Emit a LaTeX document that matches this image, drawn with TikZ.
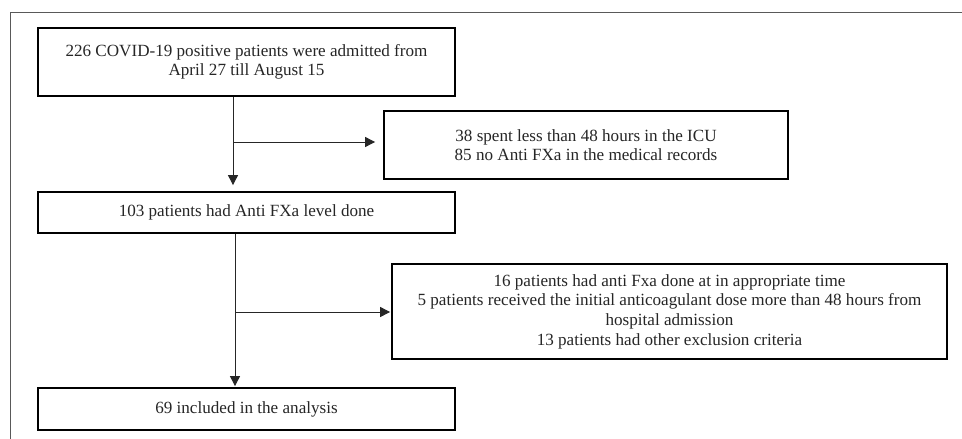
\documentclass[tikz,border=0pt]{standalone}
\usepackage{fontspec}
\setmainfont{Liberation Serif}
\usetikzlibrary{arrows.meta,calc}
\begin{document}
\begin{tikzpicture}[x=1pt,y=-1pt,
  box/.style={draw=black,line width=1.8pt,rectangle,inner sep=0pt,align=center,
    font=\fontsize{17.1pt}{19.6pt}\selectfont,text=black!85},
  conn/.style={draw=black!85,line width=0.9pt,-{Triangle[length=10pt,width=10pt]}}]
\useasboundingbox (0,0) rectangle (962,439);
\fill[white] (0,0) rectangle (962,439);
\draw[black!65,line width=1pt] (10,439) -- (10,12) -- (962,12);
\node[box,minimum width=417pt,minimum height=68pt] (b1) at (246.5,62)
  {226 COVID-19 positive patients were admitted from\\April 27 till August 15};
\node[box,minimum width=404pt,minimum height=68pt] (b2) at (586,145)
  {38 spent less than 48 hours in the ICU\\85 no Anti FXa in the medical records};
\node[box,minimum width=417pt,minimum height=41pt] (b3) at (246.5,212.5)
  {103 patients had Anti FXa level done};
\node[box,minimum width=555pt,minimum height=95pt] (b4) at (669.5,311.5)
  {16 patients had anti Fxa done at in appropriate time\\5 patients received the initial anticoagulant dose more than 48 hours from\\hospital admission\\13 patients had other exclusion criteria};
\node[box,minimum width=417pt,minimum height=42pt] (b5) at (246.5,409)
  {69 included in the analysis};
\coordinate (j1) at (233,142);
\coordinate (j2) at (235,312);
\draw[conn,shorten >=6pt] (b1.south -| j1) -- (b3.north -| j1);
\draw[conn,shorten >=8pt] (j1) -- (b2.west |- j1);
\draw[conn,shorten >=1pt] (b3.south -| j2) -- (b5.north -| j2);
\draw[conn,shorten >=1pt] (j2) -- (b4.west |- j2);
\end{tikzpicture}
\end{document}
